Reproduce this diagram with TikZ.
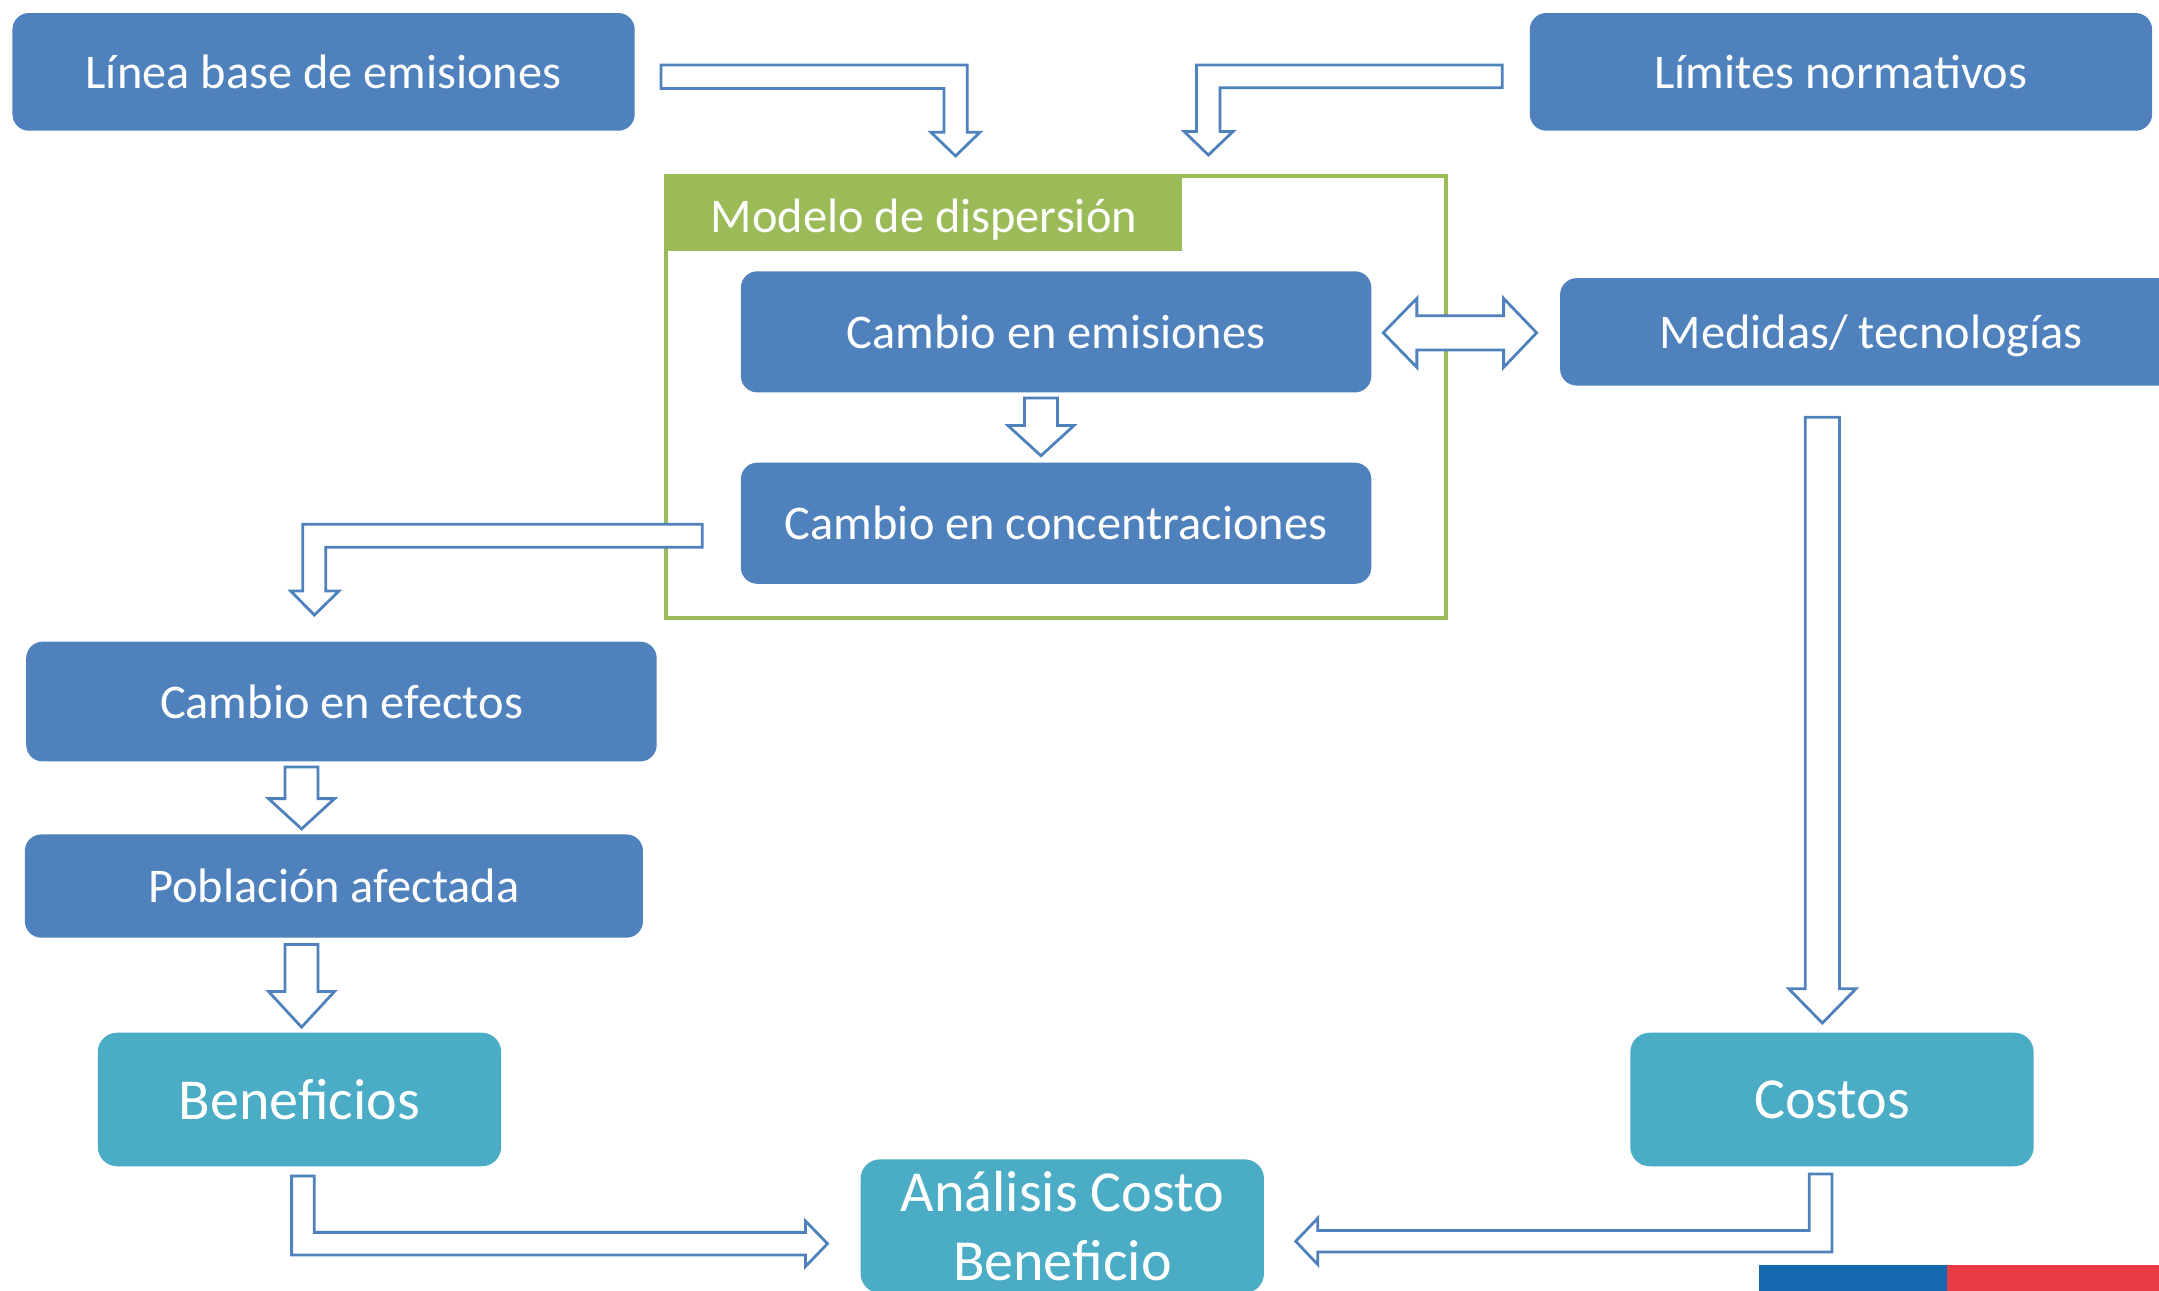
\documentclass[tikz,border=0pt]{standalone}
\usepackage{fontspec}
\setmainfont{Carlito}
\definecolor{boxblue}{HTML}{4F81BD}
\definecolor{boxteal}{HTML}{4BACC6}
\definecolor{framegreen}{HTML}{9BBB59}
\definecolor{arrowblue}{HTML}{4F81BD}
\definecolor{flagblue}{HTML}{1368B0}
\definecolor{flagred}{HTML}{E83B46}
\begin{document}
\begin{tikzpicture}[x=0.02cm,y=-0.02cm,
  bluebox/.style={rectangle, rounded corners=0.24cm, fill=boxblue, text=white, inner sep=0pt, font=\fontsize{20}{24}\selectfont},
  tealbox/.style={rectangle, rounded corners=0.28cm, fill=boxteal, text=white, inner sep=0pt, align=center, font=\fontsize{24}{28.5}\selectfont},
  blockarrow/.style={draw=arrowblue, fill=white, line width=1.15pt, line join=miter}
]
\clip (0,0) rectangle (1568,937);
\fill[white] (0,0) rectangle (1568,937);

% dispersion model frame
\draw[framegreen, line width=1.7pt] (484,128) rectangle (1050,449);
\node[fill=framegreen, anchor=north west, minimum width=7.48cm, minimum height=1.08cm, inner sep=0pt] (hdr) at (484,128) {};
\node[text=white, text depth=0pt, font=\fontsize{20}{24}\selectfont] (modelo) at (671,157) {Modelo de dispersión};

% boxes
\node[bluebox, minimum width=9.04cm, minimum height=1.71cm] (linea) at (235,52.2) {Línea base de emisiones};
\node[bluebox, minimum width=9.04cm, minimum height=1.71cm] (limites) at (1337,52.2) {Límites normativos};
\node[bluebox, minimum width=9.16cm, minimum height=1.76cm] (emis) at (767,241) {Cambio en emisiones};
\node[bluebox, minimum width=9.16cm, minimum height=1.76cm] (conc) at (767,380) {Cambio en concentraciones};
\node[bluebox, text depth=0pt, minimum width=9.04cm, minimum height=1.56cm] (medidas) at (1359,241) {Medidas/ tecnologías};
\node[bluebox, minimum width=9.16cm, minimum height=1.74cm] (efectos) at (248,509.5) {Cambio en efectos};
\node[bluebox, minimum width=8.98cm, minimum height=1.5cm] (poblacion) at (242.5,643.5) {Población afectada};
\node[tealbox, minimum width=5.86cm, minimum height=1.94cm] (benef) at (217.5,798.5) {Beneficios};
\node[tealbox, minimum width=5.86cm, minimum height=1.94cm] (costos) at (1330.5,798.5) {Costos};
\node[tealbox, minimum width=5.86cm, minimum height=1.94cm] (acb) at (771.5,890.5) {Análisis Costo\\Beneficio};

% block arrows
\draw[blockarrow] (480,47.2) -- (702.5,47.2) -- (702.5,96) -- (711.7,96) -- (694,113.3) -- (676,96) -- (685.6,96) -- (685.6,64.2) -- (480,64.2) -- cycle;
\draw[blockarrow] (1091,47.2) -- (869,47.2) -- (869,95.5) -- (860,95.5) -- (877.6,112.6) -- (895.5,95.5) -- (886,95.5) -- (886,63.8) -- (1091,63.8) -- cycle;
\draw[blockarrow] (1004.6,241.7) -- (1029,216.7) -- (1029,229.3) -- (1092,229.3) -- (1092,216.7) -- (1116,241.7) -- (1092,266.8) -- (1092,254.2) -- (1029,254.2) -- (1029,266.8) -- cycle;
\draw[blockarrow] (744,289) -- (768,289) -- (768,309) -- (780,309) -- (756,331) -- (732,309) -- (744,309) -- cycle;
\draw[blockarrow] (510,380.8) -- (510,397.5) -- (236.5,397.5) -- (236.5,429.2) -- (246.2,429.2) -- (228.3,446.7) -- (211.1,429.2) -- (219.8,429.2) -- (219.8,380.8) -- cycle;
\draw[blockarrow] (207,557) -- (231,557) -- (231,580) -- (243,580) -- (219,602) -- (195,580) -- (207,580) -- cycle;
\draw[blockarrow] (207,686) -- (231,686) -- (231,720) -- (243,720) -- (219,746) -- (195,720) -- (207,720) -- cycle;
\draw[blockarrow] (1311,303) -- (1336,303) -- (1336,718) -- (1348,718) -- (1323.5,743) -- (1299,718) -- (1311,718) -- cycle;
\draw[blockarrow] (211.8,854) -- (228.3,854) -- (228.3,895) -- (585,895) -- (585,886.8) -- (601,903.2) -- (585,919.8) -- (585,911.5) -- (211.8,911.5) -- cycle;
\draw[blockarrow] (1330.5,852.6) -- (1330.5,909.3) -- (957,909.3) -- (957,918.3) -- (941,901.5) -- (957,884.7) -- (957,893.6) -- (1314,893.6) -- (1314,852.6) -- cycle;

% flag bar
\fill[flagblue] (1277.5,918.7) rectangle (1414,940);
\fill[flagred] (1414,918.7) rectangle (1570,940);
\end{tikzpicture}
\end{document}
